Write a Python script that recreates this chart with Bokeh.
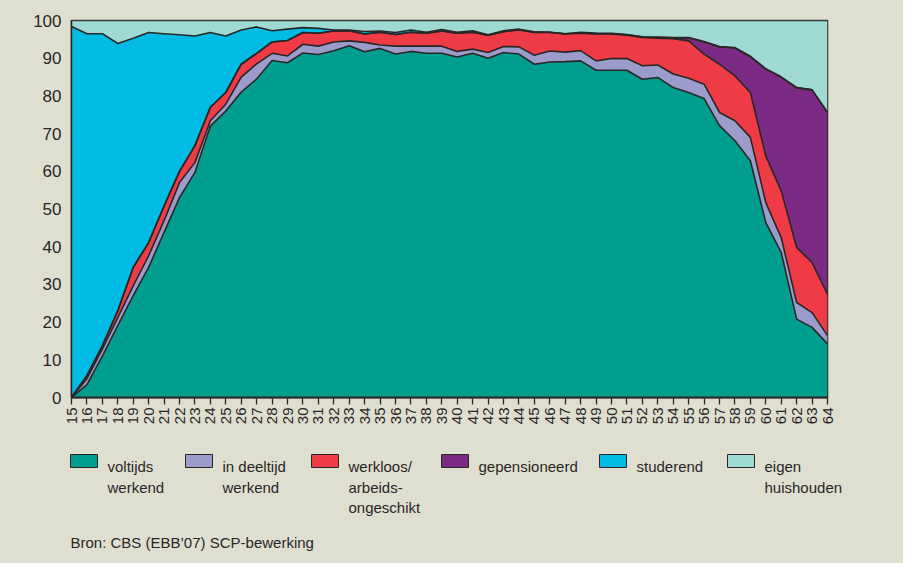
import math
from bokeh.plotting import figure
from bokeh.layouts import column
from bokeh.models import ColumnDataSource, FixedTicker, Range1d
from bokeh.core.properties import value
from bokeh.embed import file_html
from bokeh.resources import INLINE

# ---------------- data (percent of age group) ----------------
ages = list(range(15, 65))

voltijds = [0, 3.4, 11, 19.1, 27, 34.5, 43.8, 53, 59.7, 72,
            76, 81, 84.5, 89.4, 88.8, 91.4, 91, 92, 93.3, 91.7,
            92.6, 91.1, 91.8, 91.3, 91.3, 90.3, 91.3, 90, 91.5, 91.1,
            88.4, 89, 89.1, 89.3, 86.8, 86.8, 86.8, 84.4, 84.9, 82.2,
            80.9, 79.3, 72.1, 68.1, 62.8, 46.4, 38.5, 20.8, 18.6, 14.2]
deeltijd = [0, 1.6, 1.8, 2.1, 2.6, 3.1, 3.1, 4, 2.6, 1.4,
            1.8, 4, 4, 1.9, 1.8, 2.3, 2.2, 2.3, 1.3, 2.5,
            0.9, 2.1, 1.4, 1.9, 1.9, 1.5, 1.1, 1.5, 1.6, 1.9,
            2.4, 2.9, 2.5, 2.7, 2.5, 3.1, 3.1, 3.6, 3.3, 3.6,
            3.8, 3.8, 3.5, 5.3, 6.2, 5.3, 3.9, 4.4, 3.9, 2.2]
werkloos = [0, 0.8, 0.9, 1.8, 4.9, 3.5, 3.9, 3, 4.5, 3.6,
            3.1, 3.4, 2.8, 3, 4.1, 3.1, 3.4, 2.9, 2.7, 2.2,
            3.4, 3.1, 3.7, 3.4, 4, 4.8, 4.5, 4.6, 3.9, 4.5,
            6, 4.9, 4.8, 4.6, 7.1, 6.5, 6.2, 7.5, 7.1, 9.4,
            9.9, 8, 12.8, 11.9, 11.9, 12.4, 12.4, 14.6, 13.3, 11]
gepensioneerd = [0, 0, 0, 0, 0, 0, 0, 0, 0, 0,
                 0, 0, 0, 0, 0, 0, 0, 0, 0, 0,
                 0, 0, 0, 0, 0, 0, 0, 0, 0.1, 0.1,
                 0.1, 0.1, 0.1, 0.1, 0.1, 0.1, 0.1, 0.1, 0.2, 0.2,
                 0.8, 3.2, 4.6, 7.4, 9.5, 23, 30.2, 42.4, 45.8, 48.2]
studerend = [98.4, 90.7, 82.8, 70.9, 60.8, 55.7, 45.7, 36.2, 29.1, 19.8,
             15, 9.1, 7, 3, 3, 1.3, 1.3, 0.3, 0.2, 0.7,
             0.3, 0.5, 0.6, 0.3, 0.4, 0.3, 0.4, 0.1, 0.2, 0.1,
             0.1, 0, 0, 0.2, 0.2, 0.1, 0.1, 0.1, 0.1, 0.1,
             0.1, 0.1, 0.1, 0.1, 0.1, 0.1, 0, 0, 0, 0]
eigen_huishouden = [1.6, 3.5, 3.5, 6.1, 4.7, 3.2, 3.5, 3.8, 4.1, 3.2,
                    4.1, 2.5, 1.7, 2.7, 2.3, 1.9, 2.1, 2.5, 2.5, 2.9,
                    2.8, 3.2, 2.5, 3.1, 2.4, 3.1, 2.7, 3.8, 2.7, 2.3,
                    3, 3.1, 3.5, 3.1, 3.3, 3.4, 3.7, 4.3, 4.4, 4.5,
                    4.5, 5.6, 6.9, 7.2, 9.5, 12.8, 15, 17.8, 18.4, 24.4]

series_keys = ["voltijds", "deeltijd", "werkloos", "gepensioneerd", "studerend", "eigen"]
legend_lines = [["voltijds", "werkend"], ["in deeltijd", "werkend"],
                ["werkloos/", "arbeids-", "ongeschikt"], ["gepensioneerd"],
                ["studerend"], ["eigen", "huishouden"]]
colors = ["#009e8f", "#9c9ccc", "#ef3b45", "#7b2b84", "#00bce4", "#9fd9d4"]
y_ticks = [0, 10, 20, 30, 40, 50, 60, 70, 80, 90, 100]
source_text = "Bron: CBS (EBB\u201907) SCP-bewerking"

# ---------------- styling / layout ----------------
BG = "#dfdfd0"
INK = "#2a2626"
FONT = "Liberation Sans"
W = 903
H_CHART = 437
H_LEGEND = 126
B_LEFT, B_RIGHT = 71, 76

source = ColumnDataSource(dict(age=ages, voltijds=voltijds, deeltijd=deeltijd,
                               werkloos=werkloos, gepensioneerd=gepensioneerd,
                               studerend=studerend, eigen=eigen_huishouden))

p = figure(width=W, height=H_CHART, x_range=Range1d(15, 64), y_range=Range1d(0, 100),
           output_backend="svg", toolbar_location=None,
           min_border_left=B_LEFT, min_border_right=B_RIGHT, min_border_top=20, min_border_bottom=40)

p.background_fill_color = BG
p.border_fill_color = BG
p.outline_line_color = INK
p.outline_line_width = 1.5
p.xgrid.visible = False
p.ygrid.visible = False

p.varea_stack(series_keys, x="age", color=colors, source=source)
p.vline_stack(series_keys, x="age", color=INK, line_width=1.6, source=source)

# x axis
p.xaxis.ticker = FixedTicker(ticks=ages)
p.xaxis.major_label_orientation = math.pi / 2
p.xaxis.major_label_text_font = FONT
p.xaxis.major_label_text_font_size = "15px"
p.xaxis.major_label_text_color = INK
p.xaxis.major_tick_out = 7
p.xaxis.major_tick_in = 0
p.xaxis.minor_tick_out = 0
p.xaxis.minor_tick_in = 0
p.xaxis.major_tick_line_color = INK
p.xaxis.major_tick_line_width = 1.3
p.xaxis.axis_line_color = INK
p.xaxis.axis_line_width = 2
p.xaxis.major_label_standoff = 3

# y axis
p.yaxis.ticker = FixedTicker(ticks=y_ticks)
p.yaxis.major_label_text_font = FONT
p.yaxis.major_label_text_font_size = "17px"
p.yaxis.major_label_text_color = INK
p.yaxis.major_tick_out = 0
p.yaxis.major_tick_in = 0
p.yaxis.minor_tick_out = 0
p.yaxis.minor_tick_in = 0
p.yaxis.axis_line_color = INK
p.yaxis.axis_line_width = 1.5
p.yaxis.major_label_standoff = 10

# ---------------- legend panel (figure pixels, y downward) ----------------
lg = figure(width=W, height=H_LEGEND, x_range=Range1d(0, W), y_range=Range1d(H_LEGEND, 0),
            output_backend="svg", toolbar_location=None,
            min_border_left=0, min_border_right=0, min_border_top=0, min_border_bottom=0)
lg.axis.visible = False
lg.grid.visible = False
lg.outline_line_color = None
lg.background_fill_color = BG
lg.border_fill_color = BG

square_left = [70, 185, 311, 441, 599, 727]
sq_w, sq_top, sq_bottom = 27, 17, 30
text_dx, first_baseline, line_gap = 37, 29, 20.5

lg.quad(left=square_left, right=[x + sq_w for x in square_left],
        top=[sq_top] * 6, bottom=[sq_bottom] * 6,
        fill_color=colors, line_color=INK, line_width=1)

tx, ty, tt = [], [], []
for x0, lines in zip(square_left, legend_lines):
    for j, t in enumerate(lines):
        tx.append(x0 + text_dx)
        ty.append(first_baseline + line_gap * j)
        tt.append(t)
lg.text(x=tx, y=ty, text=tt, text_font=value(FONT), text_font_size="15px",
        text_color=INK, text_baseline="alphabetic", text_align="left")
lg.text(x=[70], y=[105], text=[source_text], text_font=value(FONT), text_font_size="15px",
        text_color=INK, text_baseline="alphabetic", text_align="left")

# nest the legend panel so that its frame is not aligned to the chart frame
layout = column(p, column(lg, spacing=0), spacing=0, styles={"background-color": BG})
open("out.html", "w").write(file_html(layout, INLINE))
